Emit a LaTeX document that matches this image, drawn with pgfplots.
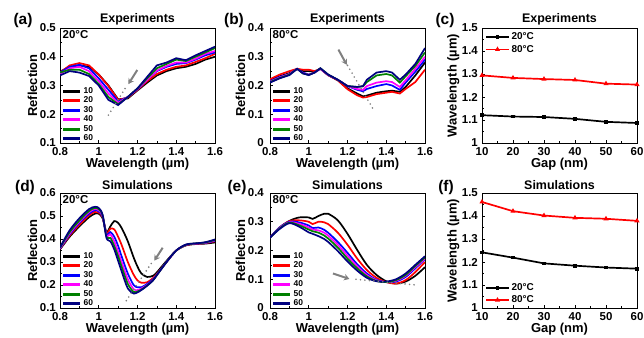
\documentclass[border=0pt]{standalone}
\usepackage{fontspec}
\setmainfont{Liberation Sans}
\usepackage{pgfplots}
\pgfplotsset{compat=1.18}
\usepackage{pgfplotstable}
\usetikzlibrary{arrows.meta}

\definecolor{cnavy}{RGB}{0,0,128}
\definecolor{cgreen}{RGB}{0,128,0}
\definecolor{cmag}{RGB}{255,0,255}
\definecolor{cblue}{RGB}{0,0,255}
\definecolor{cred}{RGB}{255,0,0}
\definecolor{cgray}{RGB}{128,128,128}

\pgfplotstableread{
x    s10   s20   s30   s40   s50   s60
0.80 0.348 0.345 0.345 0.340 0.345 0.335
0.85 0.365 0.370 0.365 0.360 0.355 0.350
0.90 0.370 0.378 0.372 0.365 0.355 0.345
0.95 0.365 0.370 0.360 0.350 0.340 0.333
1.00 0.338 0.338 0.325 0.315 0.305 0.300
1.05 0.300 0.298 0.285 0.272 0.260 0.250
1.10 0.252 0.250 0.245 0.240 0.235 0.232
1.15 0.255 0.258 0.260 0.260 0.260 0.260
1.20 0.283 0.285 0.287 0.288 0.290 0.290
1.25 0.310 0.315 0.320 0.320 0.325 0.330
1.30 0.335 0.340 0.350 0.352 0.360 0.370
1.35 0.350 0.355 0.365 0.368 0.375 0.380
1.40 0.360 0.365 0.375 0.380 0.390 0.395
1.45 0.365 0.370 0.378 0.380 0.385 0.388
1.50 0.375 0.382 0.390 0.393 0.400 0.405
1.55 0.390 0.395 0.405 0.410 0.415 0.420
1.60 0.400 0.410 0.415 0.420 0.430 0.435
}\tabA

\pgfplotstableread{
x    s10   s20   s30   s40   s50   s60
0.80 0.218 0.222 0.215 0.213 0.212 0.210
0.85 0.232 0.238 0.230 0.228 0.226 0.225
0.90 0.243 0.250 0.240 0.240 0.238 0.236
0.94 0.258 0.258 0.258 0.258 0.258 0.258
0.97 0.250 0.255 0.245 0.243 0.242 0.242
1.00 0.250 0.255 0.238 0.238 0.237 0.236
1.03 0.248 0.250 0.245 0.245 0.245 0.245
1.06 0.258 0.258 0.258 0.258 0.260 0.260
1.10 0.236 0.236 0.237 0.237 0.238 0.238
1.15 0.218 0.218 0.220 0.220 0.220 0.220
1.20 0.190 0.187 0.198 0.198 0.198 0.198
1.25 0.172 0.166 0.185 0.188 0.195 0.195
1.28 0.162 0.158 0.180 0.185 0.197 0.198
1.30 0.165 0.160 0.188 0.198 0.212 0.220
1.35 0.175 0.170 0.198 0.210 0.235 0.245
1.40 0.180 0.175 0.205 0.215 0.240 0.250
1.43 0.182 0.178 0.200 0.212 0.235 0.245
1.47 0.178 0.172 0.185 0.195 0.210 0.220
1.50 0.195 0.188 0.210 0.218 0.232 0.238
1.55 0.235 0.212 0.248 0.258 0.268 0.275
1.60 0.280 0.255 0.290 0.300 0.315 0.330
}\tabB

\pgfplotstableread{
x    s10   s20   s30   s40   s50   s60
0.80 0.355 0.357 0.358 0.360 0.362 0.364
0.85 0.410 0.415 0.420 0.425 0.430 0.438
0.90 0.455 0.462 0.470 0.475 0.480 0.490
0.95 0.495 0.503 0.510 0.517 0.522 0.530
0.98 0.510 0.518 0.525 0.530 0.535 0.540
1.00 0.510 0.515 0.520 0.525 0.530 0.535
1.02 0.490 0.495 0.498 0.500 0.503 0.505
1.04 0.430 0.425 0.420 0.415 0.410 0.405
1.06 0.455 0.445 0.430 0.420 0.405 0.390
1.08 0.478 0.442 0.410 0.390 0.370 0.355
1.10 0.470 0.410 0.370 0.345 0.325 0.305
1.12 0.445 0.370 0.320 0.295 0.275 0.255
1.15 0.390 0.300 0.250 0.225 0.205 0.185
1.18 0.320 0.245 0.200 0.182 0.170 0.163
1.20 0.280 0.220 0.190 0.178 0.172 0.168
1.22 0.250 0.210 0.190 0.185 0.180 0.178
1.25 0.235 0.212 0.205 0.200 0.198 0.197
1.28 0.240 0.230 0.225 0.222 0.220 0.220
1.30 0.255 0.248 0.245 0.244 0.243 0.243
1.35 0.305 0.300 0.300 0.300 0.300 0.300
1.40 0.350 0.350 0.350 0.350 0.350 0.350
1.45 0.372 0.373 0.374 0.375 0.375 0.376
1.50 0.378 0.379 0.380 0.380 0.381 0.381
1.55 0.380 0.382 0.383 0.384 0.385 0.386
1.60 0.385 0.390 0.392 0.394 0.396 0.398
}\tabD

\pgfplotstableread{
x    s10   s20   s30   s40   s50   s60
0.80 0.245 0.245 0.245 0.245 0.245 0.245
0.85 0.280 0.280 0.280 0.278 0.277 0.275
0.90 0.303 0.302 0.300 0.298 0.297 0.295
0.95 0.315 0.305 0.298 0.293 0.288 0.283
1.00 0.315 0.300 0.287 0.280 0.273 0.263
1.02 0.310 0.292 0.278 0.273 0.267 0.258
1.05 0.320 0.300 0.280 0.270 0.262 0.250
1.08 0.328 0.298 0.272 0.262 0.252 0.240
1.10 0.328 0.292 0.262 0.252 0.242 0.230
1.15 0.305 0.262 0.230 0.220 0.210 0.198
1.20 0.258 0.220 0.192 0.182 0.172 0.162
1.25 0.202 0.172 0.152 0.145 0.138 0.130
1.30 0.150 0.132 0.120 0.115 0.110 0.105
1.35 0.115 0.105 0.098 0.096 0.094 0.093
1.40 0.093 0.090 0.090 0.090 0.090 0.092
1.45 0.085 0.085 0.092 0.095 0.097 0.100
1.50 0.092 0.097 0.108 0.112 0.115 0.120
1.55 0.112 0.125 0.138 0.142 0.146 0.150
1.60 0.142 0.160 0.170 0.172 0.176 0.180
}\tabE

\tikzset{tnote/.style={anchor=north west, font=\bfseries\fontsize{11.5}{11.5}\selectfont, inner sep=1pt}}

\pgfplotsset{
  myax/.style={scale only axis, width=155bp, height=115bp,
    axis line style={line width=0.9pt},
    every tick/.style={black, line width=0.7pt},
    tick align=inside, xtick pos=bottom, ytick pos=left,
    major tick length=3.5pt, minor tick length=2pt,
    minor x tick num=1, minor y tick num=1,
    tick label style={font=\bfseries\fontsize{11.5}{11.5}\selectfont},
    xticklabel style={inner sep=0pt, yshift=-4.3pt},
    yticklabel style={inner sep=0pt, xshift=-4pt},
    /pgf/number format/assume math mode=true,
    label style={font=\bfseries\fontsize{13}{13}\selectfont},
    title style={font=\bfseries\fontsize{12.5}{12.5}\selectfont, yshift=-6.5pt},
    xlabel style={yshift=1.5pt}, ylabel style={yshift=-1pt},
  },
  spec/.style={myax, xmin=0.8, xmax=1.6, xtick={0.8,1,1.2,1.4,1.6},
    xlabel={Wavelength (µm)}, ylabel={Reflection},
    legend style={at={(0.01,0.005)}, anchor=south west, draw=none, fill=none,
      font=\bfseries\fontsize{8.5}{8.5}\selectfont, row sep=2.1pt,
      inner sep=0pt, nodes={inner sep=0pt}, column sep=2pt},
    legend image code/.code={\draw[#1, line width=3pt] (0cm,0cm) -- (0.6cm,0cm);},
    every axis plot/.append style={line width=1.7pt},
  },
  gap/.style={myax, xmin=10, xmax=60, xtick={10,20,30,40,50,60},
    ymin=1, ymax=1.5, ytick={1,1.1,1.2,1.3,1.4,1.5},
    xlabel={Gap (nm)}, ylabel={Wavelength (µm)},
    legend style={draw=none, fill=none,
      font=\bfseries\fontsize{10}{10}\selectfont, row sep=4pt,
      inner sep=0pt, nodes={inner sep=0pt}, column sep=2pt},
    legend image code/.code={\draw[#1, line width=1.7pt] (0cm,0cm) -- (0.8cm,0cm); \path[#1] plot coordinates {(0.4cm,0cm)};},
    every axis plot/.append style={line width=1.7pt},
  },
}

\newcommand{\sixcurves}[1]{%
  \addplot[black] table[x=x,y=s10] {#1};
  \addplot[cred] table[x=x,y=s20] {#1};
  \addplot[cblue] table[x=x,y=s30] {#1};
  \addplot[cmag] table[x=x,y=s40] {#1};
  \addplot[cgreen] table[x=x,y=s50] {#1};
  \addplot[cnavy] table[x=x,y=s60] {#1};
  \legend{10,20,30,40,50,60}
}
\newcommand{\sixsmooth}[1]{%
  \addplot[black,smooth] table[x=x,y=s10] {#1};
  \addplot[cred,smooth] table[x=x,y=s20] {#1};
  \addplot[cblue,smooth] table[x=x,y=s30] {#1};
  \addplot[cmag,smooth] table[x=x,y=s40] {#1};
  \addplot[cgreen,smooth] table[x=x,y=s50] {#1};
  \addplot[cnavy,smooth] table[x=x,y=s60] {#1};
  \legend{10,20,30,40,50,60}
}

\begin{document}
\begin{tikzpicture}
\useasboundingbox (0,0) rectangle (644bp,-338bp);

% (a)
\begin{axis}[spec, at={(60bp,-143bp)}, anchor=south west,
  ymin=0.1, ymax=0.5, ytick={0.1,0.2,0.3,0.4,0.5}, title={Experiments}]
\sixcurves{\tabA}
\addplot[cgray, forget plot, line width=1.8pt, line cap=round, dash pattern=on 0pt off 4.5pt] coordinates {(1.05,0.197) (1.144,0.298)};
\draw[cgray, line width=2pt, -{Stealth[length=5.5pt,width=6.5pt]}] (axis cs:1.199,0.354) -- (axis cs:1.153,0.305);
\node[tnote] at (rel axis cs:0.01,0.99) {20°C};
\end{axis}

% (b)
\begin{axis}[spec, at={(270bp,-143bp)}, anchor=south west,
  ymin=0, ymax=0.4, ytick={0,0.1,0.2,0.3,0.4}, title={Experiments},
  yticklabel style={xshift=-2pt}]
\sixcurves{\tabB}
\addplot[cgray, forget plot, line width=1.8pt, line cap=round, dash pattern=on 0pt off 4.5pt] coordinates {(1.2,0.27) (1.335,0.115)};
\draw[cgray, line width=2pt, -{Stealth[length=5.5pt,width=6.5pt]}] (axis cs:1.153,0.325) -- (axis cs:1.196,0.272);
\node[tnote] at (rel axis cs:0.01,0.99) {80°C};
\end{axis}

% (c)
\begin{axis}[gap, at={(482bp,-143bp)}, anchor=south west, title={Experiments},
  legend style={at={(0.02,0.96)}, anchor=north west}]
\addplot[black, mark=square*, mark size=1pt] coordinates {(10,1.121) (20,1.115) (30,1.113) (40,1.105) (50,1.092) (60,1.087)};
\addplot[cred, mark=triangle*, mark size=1.3pt] coordinates {(10,1.294) (20,1.283) (30,1.278) (40,1.274) (50,1.258) (60,1.254)};
\legend{20°C,80°C}
\end{axis}

% (d)
\begin{axis}[spec, at={(60bp,-308bp)}, anchor=south west,
  ymin=0.1, ymax=0.6, ytick={0.1,0.2,0.3,0.4,0.5,0.6}, title={Simulations}]
\sixsmooth{\tabD}
\addplot[cgray, forget plot, line width=1.8pt, line cap=round, dash pattern=on 0pt off 4.5pt] coordinates {(1.142,0.132) (1.279,0.304)};
\draw[cgray, line width=2pt, -{Stealth[length=5.5pt,width=6.5pt]}] (axis cs:1.33,0.362) -- (axis cs:1.287,0.306);
\node[tnote] at (rel axis cs:0.01,0.99) {20°C};
\end{axis}

% (e)
\begin{axis}[spec, at={(270bp,-308bp)}, anchor=south west,
  ymin=0, ymax=0.4, ytick={0,0.1,0.2,0.3,0.4}, title={Simulations},
  yticklabel style={xshift=-2pt}]
\sixsmooth{\tabE}
\addplot[cgray, forget plot, line width=1.8pt, line cap=round, dash pattern=on 0pt off 4.5pt] coordinates {(1.244,0.1) (1.552,0.08)};
\draw[cgray, line width=2pt, -{Stealth[length=5.5pt,width=6.5pt]}] (axis cs:1.125,0.12) -- (axis cs:1.21,0.101);
\node[tnote] at (rel axis cs:0.01,0.99) {80°C};
\end{axis}

% (f)
\begin{axis}[gap, at={(482bp,-308bp)}, anchor=south west, title={Simulations},
  legend style={at={(0.02,0.03)}, anchor=south west}]
\addplot[black, mark=square*, mark size=1pt] coordinates {(10,1.242) (20,1.219) (30,1.194) (40,1.184) (50,1.176) (60,1.171)};
\addplot[cred, mark=triangle*, mark size=1.3pt] coordinates {(10,1.461) (20,1.421) (30,1.402) (40,1.392) (50,1.388) (60,1.379)};
\legend{20°C,80°C}
\end{axis}

\begin{scope}[every node/.style={font=\bfseries\fontsize{15.5}{15.5}\selectfont, inner sep=0pt}]
\node at (23bp,-21bp) {(a)};
\node at (234bp,-21bp) {(b)};
\node at (445bp,-21bp) {(c)};
\node at (25bp,-188bp) {(d)};
\node at (237bp,-188bp) {(e)};
\node at (446bp,-188bp) {(f)};
\end{scope}
\end{tikzpicture}
\end{document}
